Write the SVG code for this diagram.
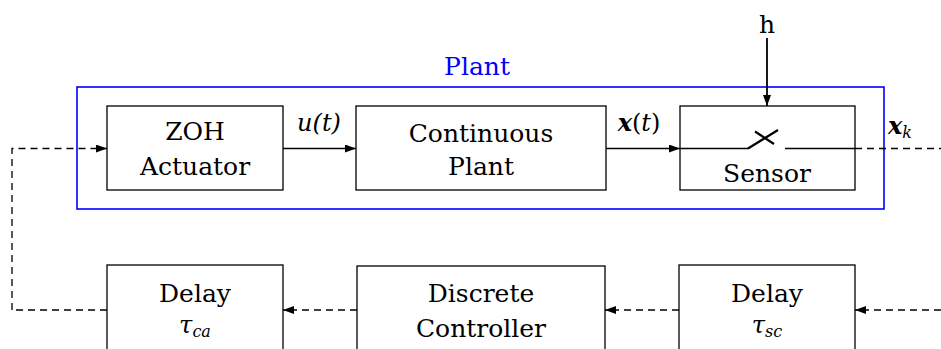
<svg xmlns="http://www.w3.org/2000/svg" width="941" height="349" viewBox="0 0 941 349">
<defs>
<marker id="ah" markerWidth="11" markerHeight="8" refX="11" refY="4" orient="auto" markerUnits="userSpaceOnUse">
<path d="M0,0 L11,4 L0,8 z" fill="#000"/>
</marker>
<style>
.box{fill:#fff;stroke:#000;stroke-width:1.3}
.plant{fill:none;stroke:#0000ff;stroke-width:1.6}
.t{font-family:"DejaVu Serif","Liberation Serif",serif;font-size:25px;fill:#000;text-anchor:middle}
.m{font-family:"DejaVu Serif","Liberation Serif",serif;font-size:24px;font-style:italic;fill:#000;text-anchor:middle}
.sub{font-size:16px}
.ln{fill:none;stroke:#000;stroke-width:1.3}
.dash{fill:none;stroke:#000;stroke-width:1.3;stroke-dasharray:7 5}
.sw{fill:none;stroke:#000;stroke-width:2.2}
</style>
</defs>
<rect width="941" height="349" fill="#fff"/>
<g id="plant-group">
<rect class="plant" x="77" y="87" width="807" height="122"/>
<text class="t" x="477" y="75" style="fill:#0000ff">Plant</text>
</g>
<g id="zoh">
<rect class="box" x="107" y="106" width="176" height="84"/>
<text class="t" x="195" y="140">ZOH</text>
<text class="t" x="195" y="175">Actuator</text>
</g>
<g id="continuous-plant">
<rect class="box" x="356" y="106" width="250" height="84"/>
<text class="t" x="481" y="142">Continuous</text>
<text class="t" x="481" y="175">Plant</text>
</g>
<g id="sensor">
<rect class="box" x="680" y="106" width="175" height="84"/>
<path class="ln" d="M680,148.5 H748"/>
<path class="sw" d="M748,148.5 L778,130 M755,131.5 L774,144"/>
<path class="ln" d="M785,148.5 H855"/>
<text class="t" x="767" y="182">Sensor</text>
</g>
<g id="delay-ca">
<rect class="box" x="107" y="265" width="176" height="100"/>
<text class="t" x="195" y="302">Delay</text>
<text class="m" x="195" y="333">τ<tspan class="sub" dy="4">ca</tspan></text>
</g>
<g id="discrete-controller">
<rect class="box" x="357" y="266" width="248" height="100"/>
<text class="t" x="481" y="302">Discrete</text>
<text class="t" x="481" y="337">Controller</text>
</g>
<g id="delay-sc">
<rect class="box" x="679" y="265" width="176" height="100"/>
<text class="t" x="767" y="302">Delay</text>
<text class="m" x="767" y="333">τ<tspan class="sub" dy="4">sc</tspan></text>
</g>
<g id="connectors">
<path class="ln" d="M283,148.5 H356" marker-end="url(#ah)"/>
<text class="m" x="319" y="131">u(t)</text>
<path class="ln" d="M606,148.5 H680" marker-end="url(#ah)"/>
<text class="m" x="639" y="131" font-weight="bold">x<tspan font-style="normal" font-weight="normal">(</tspan><tspan font-weight="normal">t</tspan><tspan font-style="normal" font-weight="normal">)</tspan></text>
<path class="dash" d="M855,148.5 H941"/>
<text class="m" x="900" y="134" font-weight="bold">x<tspan class="sub" dy="4" font-weight="normal">k</tspan></text>
<path class="sw" style="stroke-width:1.8" d="M767,38 V106" marker-end="url(#ah)"/>
<text class="t" x="767" y="33">h</text>
<path class="dash" d="M12,310 V148.5 H107" marker-end="url(#ah)"/>
<path class="dash" d="M107,310 H12"/>
<path class="dash" d="M357,310 H283" marker-end="url(#ah)"/>
<path class="dash" d="M679,310 H605" marker-end="url(#ah)"/>
<path class="dash" d="M941,310 H855" marker-end="url(#ah)"/>
</g>
</svg>
